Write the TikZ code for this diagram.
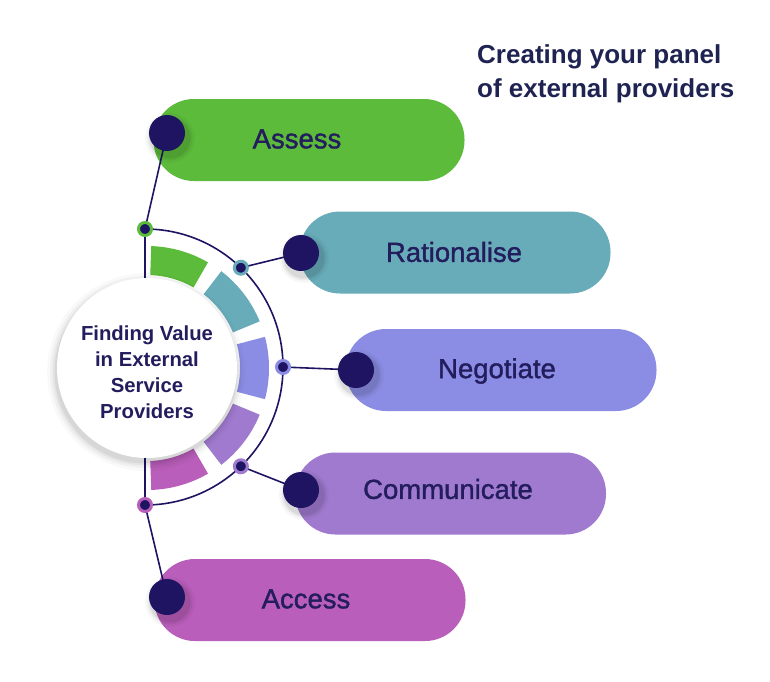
\documentclass[tikz,border=0pt]{standalone}
\usepackage{fontspec}
\setmainfont{Liberation Sans}
\newfontfamily\medfont[FakeBold=1.3]{Liberation Sans}
\usetikzlibrary{calc}
\definecolor{cgreen}{HTML}{5CBB3B}
\definecolor{cteal}{HTML}{68ACB9}
\definecolor{cviolet}{HTML}{8A8DE3}
\definecolor{cpurple}{HTML}{A07ACF}
\definecolor{cmagenta}{HTML}{B95EBA}
\definecolor{navy}{HTML}{1E1462}
\definecolor{tnavy}{HTML}{231D5E}
\definecolor{titlec}{HTML}{1F2352}
\pgfdeclarelayer{back}
\pgfdeclarelayer{mid}
\pgfsetlayers{back,mid,main}
\tikzset{
  pill/.style={rectangle, rounded corners=40.5pt, minimum width=311pt, minimum height=82pt, inner sep=0pt, draw=none},
  bigdot/.style={circle, minimum size=36pt, inner sep=0pt, fill=navy},
  smalldot/.style={circle, minimum size=13pt, inner sep=0pt, line width=3pt, fill=navy, draw=#1},
  lbl/.style={text=tnavy, font=\medfont\fontsize{27.5}{32}\selectfont, inner sep=0pt},
  conn/.style={draw=navy, line width=1.6pt},
  shade/.style={fill=black, opacity=#1},
}
\begin{document}
\begin{tikzpicture}[x=1pt,y=1pt]
\useasboundingbox (0,0) rectangle (770,-681);

% title
\node[anchor=north west, inner sep=0pt, align=left, text=titlec,
  font=\fontsize{26}{34}\selectfont\bfseries] (title) at (477,-44)
  {Creating your panel\\of external providers};

% pills
\begin{pgfonlayer}{back}
\fill[white] (0,0) rectangle (770,-681);
\node[pill, fill=cgreen]   (p1) at (309,-140) {};
\node[pill, fill=cteal]    (p2) at (455,-252.5) {};
\node[pill, fill=cviolet]  (p3) at (501,-370) {};
\node[pill, fill=cpurple]  (p4) at (450.5,-493.5) {};
\node[pill, fill=cmagenta] (p5) at (310,-600) {};
\end{pgfonlayer}

\node[lbl] (l1) at (297,-139) {Assess};
\node[lbl] (l2) at (454,-252) {Rationalise};
\node[lbl] (l3) at (497,-371) {Negotiate};
\node[lbl] (l4) at (448,-489) {Communicate};
\node[lbl] (l5) at (306,-599) {Access};

% centre
\coordinate (c) at (145,-367);
\coordinate (cc) at (147,-368);

% segments
\foreach \a/\b/\col in {88/60/cgreen, 52.5/22.5/cteal, 14.8/-14.8/cviolet, -22.5/-52.5/cpurple, -60/-88/cmagenta}{
  \fill[\col] ($(cc)+(\a:93)$) arc[start angle=\a, end angle=\b, radius=93]
     -- ($(cc)+(\b:122)$) arc[start angle=\b, end angle=\a, radius=122] -- cycle;
}

% main circle with soft shadow
\foreach \r/\o in {99/0.025, 96/0.035, 93.5/0.045, 91.5/0.06}{
  \fill[shade=\o] ($(cc)+(-1,-4)$) circle[radius=\r];
}
\node[circle, minimum size=180pt, inner sep=0pt, fill=white] (hub) at (cc) {};
\node[align=center, text=tnavy, inner sep=0pt, font=\fontsize{20.3}{26}\selectfont\bfseries] (hubtxt) at (147,-372)
  {Finding Value\\in External\\Service\\Providers};

% small dots on the arc
\node[smalldot=cgreen]   (s1) at ($(c)+(90:138)$) {};
\node[smalldot=cteal]    (s2) at ($(c)+(46:138)$) {};
\node[smalldot=cviolet]  (s3) at ($(c)+(0:138)$) {};
\node[smalldot=cpurple]  (s4) at ($(c)+(-46:138)$) {};
\node[smalldot=cmagenta] (s5) at ($(c)+(-90:138)$) {};

% big dots with soft shadow
\foreach \p in {(167,-133),(301,-253),(356,-370),(301,-490),(167,-597)}{
  \foreach \r/\o in {25/0.03, 22.5/0.05, 20.5/0.07}{
    \fill[shade=\o] \p ++(3,-5) circle[radius=\r];
  }
}
\node[bigdot] (d1) at (167,-133) {};
\node[bigdot] (d2) at (301,-253) {};
\node[bigdot] (d3) at (356,-370) {};
\node[bigdot] (d4) at (301,-490) {};
\node[bigdot] (d5) at (167,-597) {};

% connectors
\begin{pgfonlayer}{mid}
\draw[conn] (s1.center) -- (s5.center);
\draw[conn] (s1.center) arc[start angle=90, end angle=-90, radius=138];
\draw[conn] (s1.center) -- (d1.center);
\draw[conn] (s2.center) -- (d2.center);
\draw[conn] (s3.center) -- (d3.center);
\draw[conn] (s4.center) -- (d4.center);
\draw[conn] (s5.center) -- (d5.center);
\end{pgfonlayer}
\end{tikzpicture}
\end{document}
